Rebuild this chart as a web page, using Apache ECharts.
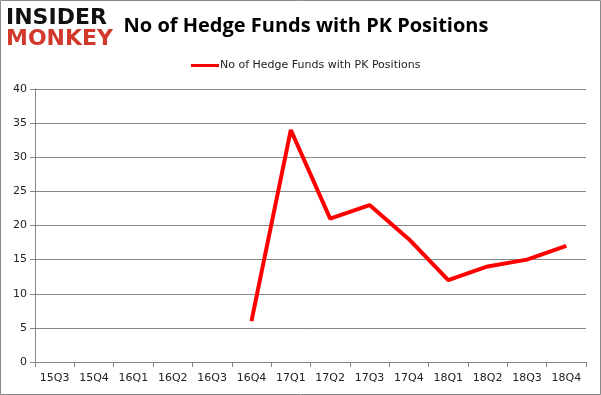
<!DOCTYPE html>
<html>
<head>
<meta charset="utf-8">
<script src="https://cdn.jsdelivr.net/npm/echarts@6/dist/echarts.min.js"></script>
<style>
html,body{margin:0;padding:0;background:#fff;}
#c{width:601px;height:395px;position:relative;box-sizing:border-box;}
</style>
</head>
<body>
<div id="c"></div>
<script>
const categories = ["15Q3","15Q4","16Q1","16Q2","16Q3","16Q4","17Q1","17Q2","17Q3","17Q4","18Q1","18Q2","18Q3","18Q4"];
const seriesName = "No of Hedge Funds with PK Positions";
const values = [null,null,null,null,null,6,34,21,23,18,12,14,15,17];
const titleText = "No of Hedge Funds with PK Positions";

const chart = echarts.init(document.getElementById('c'), null, {renderer:'canvas'});
chart.setOption({
  animation:false,
  backgroundColor:'#fff',
  graphic:[
    {type:'rect',shape:{x:0.5,y:0.5,width:600,height:394},style:{fill:'none',stroke:'#8a8a8a',lineWidth:1}},
    {type:'text',left:6,top:7,style:{text:'INSIDER',font:'900 22px "DejaVu Sans"',fill:'#111'}},
    {type:'text',left:6,top:28,style:{text:'MONKEY',font:'900 22px "DejaVu Sans"',fill:'#d0392b'}}
  ],
  title:{text:titleText,left:301,textAlign:'center',top:11,
    textStyle:{fontFamily:'"Open Sans", "DejaVu Sans", sans-serif',fontWeight:'bold',fontSize:20,color:'#000'}},
  legend:{top:55,left:186,itemWidth:28,itemHeight:3,itemGap:4,icon:'rect',
    textStyle:{fontFamily:'"DejaVu Sans", sans-serif',fontSize:11,color:'#222',padding:[0,0,0,-4]},
    data:[seriesName]},
  grid:{left:35,right:15,top:89,bottom:33},
  xAxis:{type:'category',data:categories,boundaryGap:true,
    axisLine:{lineStyle:{color:'#868686'}},
    axisTick:{show:true,alignWithLabel:false,length:5,lineStyle:{color:'#868686'}},
    axisLabel:{fontFamily:'"DejaVu Sans", sans-serif',fontSize:11,color:'#222',margin:11,interval:0},
    splitLine:{show:false}},
  yAxis:{type:'value',min:0,max:40,interval:5,
    axisLine:{show:true,lineStyle:{color:'#868686'}},
    axisTick:{show:true,length:5,lineStyle:{color:'#868686'}},
    axisLabel:{fontFamily:'"DejaVu Sans", sans-serif',fontSize:11,color:'#222',margin:8},
    splitLine:{show:true,lineStyle:{color:'#868686',width:1}}},
  series:[{name:seriesName,type:'line',data:values,symbol:'none',connectNulls:false,
    lineStyle:{color:'#ff0000',width:4},itemStyle:{color:'#ff0000'}}]
});
</script>
</body>
</html>
